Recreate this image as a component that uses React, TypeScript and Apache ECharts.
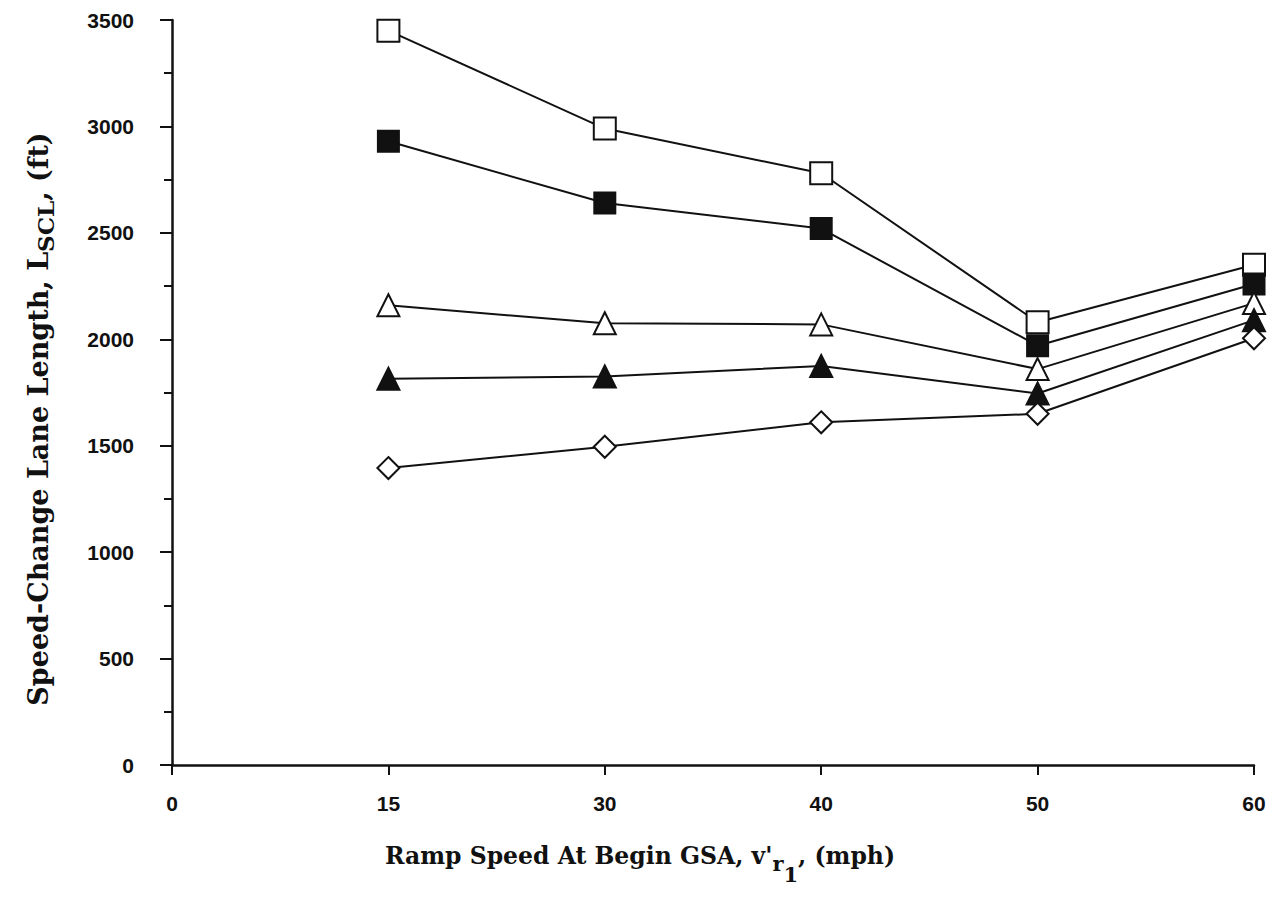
import React, { useEffect, useRef } from "react";
import * as echarts from "echarts";

const categories = ["0", "15", "30", "40", "50", "60"];
const speeds = ["15", "30", "40", "50", "60"];
const openSquare = [3450, 2990, 2780, 2080, 2350];
const filledSquare = [2930, 2640, 2520, 1970, 2260];
const openTriangle = [2160, 2075, 2070, 1860, 2170];
const filledTriangle = [1815, 1825, 1875, 1745, 2090];
const openDiamond = [1395, 1495, 1610, 1650, 2005];

const yMin = 0;
const yMax = 3500;
const yInterval = 500;

const serif = "'DejaVu Serif', 'Liberation Serif', serif";
const sans = "'Liberation Sans', Arial, sans-serif";

function mk(name: string, vals: number[], symbol: string, size: number, filled: boolean) {
  return {
    name,
    type: "line",
    data: speeds.map((s, i) => [s, vals[i]]),
    symbol,
    symbolSize: size,
    showAllSymbol: true,
    lineStyle: { color: "#111", width: 2 },
    itemStyle: {
      color: filled ? "#111" : "#fff",
      borderColor: "#111",
      borderWidth: 2,
    },
    z: 3,
  };
}

export default function App() {
  const ref = useRef<HTMLDivElement>(null);
  useEffect(() => {
    if (!ref.current) return;
    const chart = echarts.init(ref.current, null, { renderer: "svg" });
    chart.setOption({
      animation: false,
      backgroundColor: "#fff",
      grid: { left: 172, top: 20, right: 26, bottom: 157, containLabel: false },
      xAxis: {
        type: "category",
        data: categories,
        boundaryGap: false,
        axisLine: { lineStyle: { color: "#111", width: 2.5 } },
        axisTick: { show: true, length: 10, alignWithLabel: true, lineStyle: { color: "#111", width: 2 } },
        axisLabel: { color: "#111", fontFamily: sans, fontWeight: "bold", fontSize: 21, margin: 28 },
        splitLine: { show: false },
      },
      yAxis: {
        type: "value",
        min: yMin,
        max: yMax,
        interval: yInterval,
        axisLine: { show: true, lineStyle: { color: "#111", width: 2.5 } },
        axisTick: { show: true, length: 12, lineStyle: { color: "#111", width: 2 } },
        minorTick: { show: true, splitNumber: 2, length: 8, lineStyle: { color: "#111", width: 2 } },
        axisLabel: {
          color: "#111",
          fontFamily: sans,
          fontWeight: "bold",
          fontSize: 21,
          margin: 38,
          formatter: (v: number) => String(v),
        },
        splitLine: { show: false },
        minorSplitLine: { show: false },
      },
      graphic: [
        {
          type: "text",
          x: 640,
          y: 858,
          style: {
            text: "{a|Ramp Speed At Begin GSA, v'}{r|r}{o|1}{a|, (mph)}",
            align: "center",
            verticalAlign: "middle",
            rich: {
              a: { fontFamily: serif, fontWeight: "bold", fontSize: 23.5, lineHeight: 28, verticalAlign: "top", fill: "#111" },
              r: { fontFamily: serif, fontWeight: "bold", fontSize: 21, lineHeight: 26, padding: [9, 0, 0, 0], verticalAlign: "top", fill: "#111" },
              o: { fontFamily: serif, fontWeight: "bold", fontSize: 21, lineHeight: 26, padding: [20, 0, 0, 0], verticalAlign: "top", fill: "#111" },
            },
          },
        },
        {
          type: "text",
          x: 40,
          y: 419,
          rotation: Math.PI / 2,
          style: {
            text: "{a|Speed-Change Lane Length, L}{s|SCL}{a|, (ft)}",
            align: "center",
            verticalAlign: "middle",
            rich: {
              a: { fontFamily: serif, fontWeight: "bold", fontSize: 27, lineHeight: 31, verticalAlign: "top", fill: "#111" },
              s: { fontFamily: serif, fontWeight: "bold", fontSize: 23, lineHeight: 27, padding: [9, 0, 0, 0], verticalAlign: "top", fill: "#111" },
            },
          },
        },
      ],
      series: [
        mk("Open square", openSquare, "rect", 22, false),
        mk("Filled square", filledSquare, "rect", 21, true),
        mk("Open triangle", openTriangle, "triangle", 22, false),
        mk("Filled triangle", filledTriangle, "triangle", 22, true),
        mk("Open diamond", openDiamond, "diamond", 22, false),
      ],
    });
    return () => chart.dispose();
  }, []);
  return (
    <div
      ref={ref}
      style={{ position: "absolute", left: 0, top: 0, width: 1280, height: 922 }}
    />
  );
}
